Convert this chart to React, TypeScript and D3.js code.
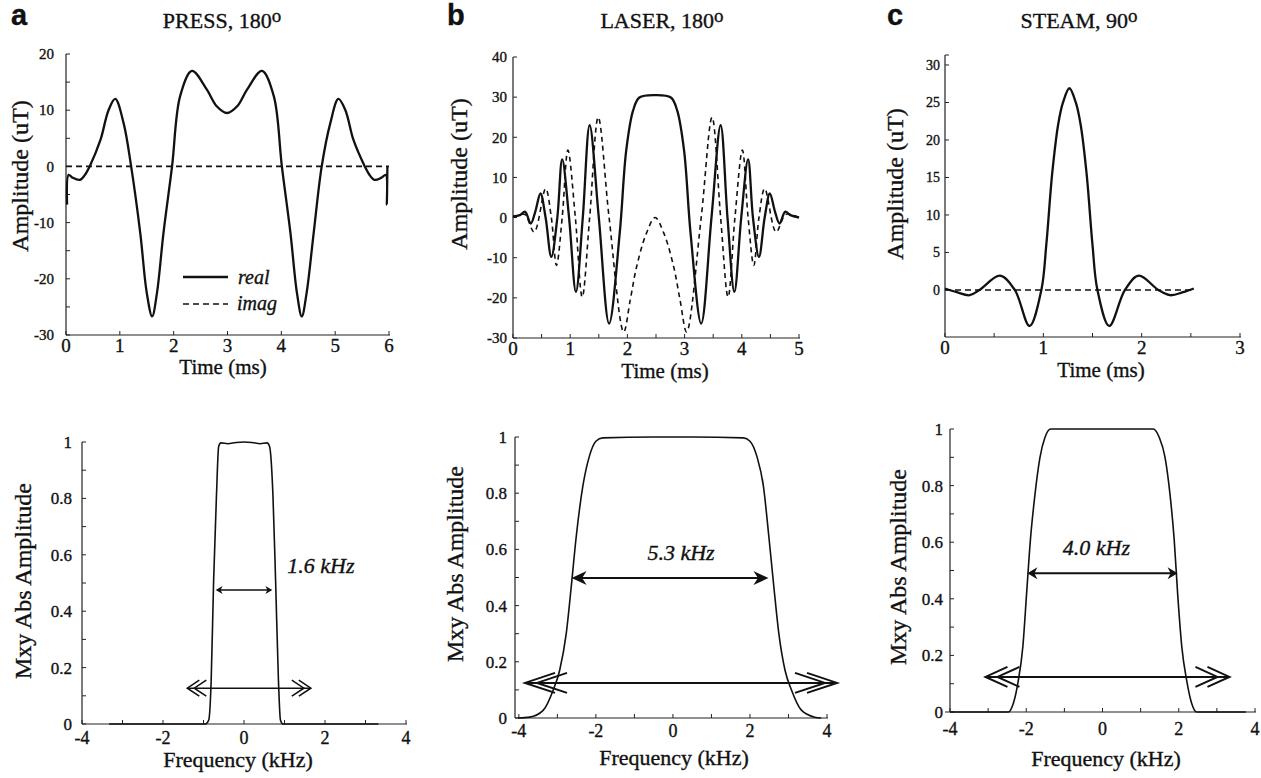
import React from "react";
import * as d3 from "d3";

type Pt = [number, number];

// ---------------- data ----------------
const panelLetters = ["a", "b", "c"];
const pulseNames = ["PRESS, 180", "LASER, 180", "STEAM, 90"];
const bandwidthLabels = ["1.6 kHz", "5.3 kHz", "4.0 kHz"];
const legendLabels = ["real", "imag"];
const timeAxisTitle = "Time (ms)";
const ampAxisTitle = "Amplitude (uT)";
const freqAxisTitle = "Frequency (kHz)";
const mxyAxisTitle = "Mxy Abs Amplitude";

const pressReal: Pt[] = [
  [0.02, -6.8], [0.05, -1.5], [0.12, -2.0], [0.26, -2.4], [0.36, -1.4], [0.44, 0],
  [0.64, 4.7], [0.79, 10], [0.915, 12], [1.07, 7.7], [1.21, 0], [1.38, -11.9],
  [1.5, -22.5], [1.6, -26.7], [1.69, -22.5], [1.81, -11.9], [1.97, 0], [2.12, 12.5],
  [2.34, 17], [2.62, 13.6], [2.8, 10.7], [2.99, 9.5], [3.18, 10.7], [3.36, 13.6],
  [3.64, 17], [3.86, 12.5], [4.01, 0], [4.17, -11.9], [4.29, -22.5], [4.38, -26.7],
  [4.47, -22.5], [4.6, -11.9], [4.75, 0], [4.91, 7.7], [5.06, 12], [5.19, 10],
  [5.34, 4.7], [5.55, 0], [5.63, -1.4], [5.73, -2.4], [5.86, -2.0], [5.94, -1.5],
  [5.96, -6.8], [5.97, 0],
];
const pressImag: Pt[] = [[0, 0], [6, 0]];

const laserReal: Pt[] = [
  [0, 0.3], [0.12, 0.6], [0.21, 1.5], [0.31, -1.5], [0.39, 1.5], [0.48, 6], [0.57, 0],
  [0.67, -9.8], [0.775, 0], [0.86, 14.5], [0.98, 0], [1.1, -18.5], [1.22, 0], [1.34, 23],
  [1.5, 0], [1.68, -26.4], [1.865, -4], [1.98, 16.8], [2.1, 26.7], [2.21, 29.9],
  [2.485, 30.5], [2.76, 29.9], [2.87, 26.7], [2.99, 16.8], [3.105, -4], [3.29, -26.4],
  [3.47, 0], [3.63, 23], [3.75, 0], [3.87, -18.5], [3.99, 0], [4.11, 14.5], [4.195, 0],
  [4.3, -9.8], [4.4, 0], [4.49, 6], [4.58, 1.5], [4.66, -1.5], [4.76, 1.5], [4.85, 0.6],
  [5.0, 0],
];
const laserImag: Pt[] = [
  [0, 0], [0.2, 0.8], [0.37, -3.6], [0.57, 7.2], [0.67, 0], [0.76, -11.9], [0.86, 0],
  [0.96, 16.8], [1.09, 0], [1.21, -19.8], [1.34, 0], [1.49, 25], [1.68, 0], [1.935, -28.5],
  [2.05, -20.5], [2.16, -12.3], [2.33, -4], [2.485, 0], [2.64, -4], [2.81, -12.3],
  [2.92, -20.5], [3.035, -28.5], [3.29, 0], [3.48, 25], [3.63, 0], [3.76, -19.8],
  [3.88, 0], [4.01, 16.8], [4.11, 0], [4.21, -11.9], [4.3, 0], [4.4, 7.2], [4.6, -3.6],
  [4.77, 0.8], [5.0, 0],
];

const steamReal: Pt[] = [
  [0, 0.2], [0.12, -0.3], [0.25, -0.7], [0.35, 0], [0.56, 1.9], [0.71, 0], [0.86, -4.8],
  [0.98, 0], [1.03, 6], [1.09, 15.5], [1.15, 22], [1.2, 25], [1.265, 26.9], [1.33, 25],
  [1.38, 22], [1.44, 15.5], [1.5, 6], [1.55, 0], [1.67, -4.8], [1.83, 0], [1.97, 1.9],
  [2.17, 0], [2.29, -0.7], [2.42, -0.3], [2.53, 0.2],
];
const steamImag: Pt[] = [[0, 0], [2.53, 0]];

const pressProfile: Pt[] = [
  [-3.33, 0], [-0.95, 0], [-0.87, 0.014], [-0.81, 0.156], [-0.75, 0.51], [-0.68, 0.81],
  [-0.625, 0.985], [-0.57, 0.997], [-0.4, 0.994], [-0.2, 0.998], [0, 1], [0.2, 0.998],
  [0.4, 0.994], [0.57, 0.997], [0.63, 0.985], [0.715, 0.81], [0.78, 0.51], [0.85, 0.156],
  [0.9, 0.014], [0.96, 0], [3.32, 0],
];
const laserProfile: Pt[] = [
  [-4.02, 0], [-3.72, 0.003], [-3.37, 0.027], [-3.11, 0.099], [-2.94, 0.17], [-2.77, 0.3],
  [-2.64, 0.467], [-2.51, 0.646], [-2.34, 0.824], [-2.17, 0.931], [-2.0, 0.985],
  [-1.82, 0.997], [-0.5, 1.0], [0.5, 1.0], [1.83, 0.997], [2.0, 0.985], [2.18, 0.931],
  [2.35, 0.824], [2.49, 0.646], [2.62, 0.467], [2.75, 0.3], [2.91, 0.17], [3.08, 0.099],
  [3.34, 0.027], [3.68, 0.003], [3.85, 0],
];
const steamProfile: Pt[] = [
  [-4, 0], [-2.47, 0], [-2.34, 0.03], [-2.21, 0.11], [-2.09, 0.23], [-1.99, 0.42],
  [-1.89, 0.61], [-1.77, 0.77], [-1.64, 0.9], [-1.51, 0.97], [-1.36, 1.0], [1.33, 1.0],
  [1.49, 0.97], [1.64, 0.9], [1.77, 0.77], [1.88, 0.61], [1.97, 0.42], [2.08, 0.23],
  [2.21, 0.11], [2.34, 0.03], [2.47, 0], [3.76, 0],
];

// annotation arrows (data units): [y, xStart, xEnd]
const fwhmArrows: [number, number, number][] = [
  [0.475, -0.7, 0.7], [0.498, -2.63, 2.48], [0.49, -1.97, 1.97],
];
const coverageArrows: [number, number, number][] = [
  [0.127, -1.4, 1.65], [0.125, -3.84, 4.26], [0.124, -3.07, 3.33],
];
const bandwidthLabelPos: Pt[] = [[1.07, 0.535], [0.21, 0.562], [-0.16, 0.555]];

// ticks
const pressTimeTicks = [0, 1, 2, 3, 4, 5, 6];
const pressAmpTicks = [-30, -20, -10, 0, 10, 20];
const pressAmpMinor = [-25, -15, -5, 5, 15];
const laserTimeTicks = [0, 1, 2, 3, 4, 5];
const laserTimeMinor = [0.5, 1.5, 2.5, 3.5, 4.5];
const laserAmpTicks = [-30, -20, -10, 0, 10, 20, 30, 40];
const steamTimeTicks = [0, 1, 2, 3];
const steamTimeMinor = [0.5, 1.5, 2.5];
const steamAmpTicks = [0, 5, 10, 15, 20, 25, 30];
const freqTicks = [-4, -2, 0, 2, 4];
const freqMinor = [-3, -1, 1, 3];
const mxyTicks = [0, 0.2, 0.4, 0.6, 0.8, 1];
const mxyMinor = [0.1, 0.3, 0.5, 0.7, 0.9];

// ---------------- layout ----------------
const SERIF = "'Liberation Serif', 'Times New Roman', Times, serif";
const SANS = "'Liberation Sans', Arial, Helvetica, sans-serif";
const AXIS = "#222";

interface Spec {
  xDomain: [number, number]; xRange: [number, number];
  yDomain: [number, number]; yRange: [number, number];
  xAxisFrom?: number;
  xTicks: number[]; xMinor: number[]; yTicks: number[]; yMinor: number[];
  yLabelRight: number; xTickBaseline: number; xTickFont: number; yTickFont: number;
  topTick?: boolean;
}

const topSpecs: Spec[] = [
  { xDomain: [0, 6], xRange: [66, 389], yDomain: [-30, 20], yRange: [335, 54],
    xTicks: pressTimeTicks, xMinor: [], yTicks: pressAmpTicks, yMinor: pressAmpMinor,
    yLabelRight: 54, xTickBaseline: 352, xTickFont: 19, yTickFont: 15 },
  { xDomain: [0, 5], xRange: [513, 799], yDomain: [-30, 40], yRange: [338, 57],
    xTicks: laserTimeTicks, xMinor: laserTimeMinor, yTicks: laserAmpTicks, yMinor: [],
    yLabelRight: 507, xTickBaseline: 355, xTickFont: 19, yTickFont: 15 },
  { xDomain: [0, 3], xRange: [945, 1240], yDomain: [-6.27, 31.33], yRange: [337, 55],
    xTicks: steamTimeTicks, xMinor: steamTimeMinor, yTicks: steamAmpTicks, yMinor: [],
    yLabelRight: 940, xTickBaseline: 354, xTickFont: 19, yTickFont: 14, topTick: true },
];
const bottomSpecs: Spec[] = [
  { xDomain: [-4, 4], xRange: [82, 406], yDomain: [0, 1], yRange: [724, 442], xAxisFrom: 82,
    xTicks: freqTicks, xMinor: freqMinor, yTicks: mxyTicks, yMinor: mxyMinor,
    yLabelRight: 72, xTickBaseline: 744, xTickFont: 18, yTickFont: 17 },
  { xDomain: [-4.1, 4], xRange: [515, 827], yDomain: [0, 1], yRange: [718, 437],
    xTicks: freqTicks, xMinor: freqMinor, yTicks: mxyTicks, yMinor: mxyMinor,
    yLabelRight: 507, xTickBaseline: 737, xTickFont: 18, yTickFont: 17 },
  { xDomain: [-4, 4], xRange: [950, 1255], yDomain: [0, 1], yRange: [712, 429], xAxisFrom: 945,
    xTicks: freqTicks, xMinor: freqMinor, yTicks: mxyTicks, yMinor: mxyMinor,
    yLabelRight: 943, xTickBaseline: 735, xTickFont: 18, yTickFont: 17 },
];

const letterPos: Pt[] = [[11, 25], [447, 25], [887, 25]];
const titlePos: Pt[] = [[222, 28], [662, 28], [1079, 28]];
const topYLabel: Pt[] = [[28, 176], [467, 174], [903, 184]];
const topXLabel: Pt[] = [[223, 374], [665, 378], [1101, 377]];
const botYLabel: Pt[] = [[31, 581], [463, 564], [906, 567]];
const botXLabel: Pt[] = [[238, 767], [674, 765], [1106, 766]];
const fwhmHead = [[7, 4], [15, 7], [10, 6]];
const chevronGeom = [[12, 8, 7], [30, 10, 12], [22, 10, 12]]; // len, half, offset

function scales(s: Spec) {
  const xs = d3.scaleLinear().domain(s.xDomain).range(s.xRange);
  const ys = d3.scaleLinear().domain(s.yDomain).range(s.yRange);
  return { xs, ys };
}

function Axes({ s, xs, ys }: { s: Spec; xs: any; ys: any }) {
  const bottom = s.yRange[0];
  const top = s.yRange[1];
  const left = xs(s.xDomain[0]);
  const axisLeft = s.xAxisFrom ?? left;
  const right = s.xRange[1];
  const tl = 4;
  return (
    <g>
      <line x1={left} x2={left} y1={bottom} y2={top} stroke={AXIS} strokeWidth={1.2} />
      <line x1={axisLeft} x2={right + 1} y1={bottom} y2={bottom} stroke={AXIS} strokeWidth={1.2} />
      {[...s.yTicks, ...s.yMinor].map((v, i) => (
        <line key={"yt" + i} x1={left} x2={left + tl} y1={ys(v)} y2={ys(v)} stroke={AXIS} strokeWidth={1} />
      ))}
      {s.topTick && <line x1={left} x2={left + tl} y1={top} y2={top} stroke={AXIS} strokeWidth={1} />}
      {[...s.xTicks, ...s.xMinor].map((v, i) => (
        <line key={"xt" + i} x1={xs(v)} x2={xs(v)} y1={bottom} y2={bottom - tl} stroke={AXIS} strokeWidth={1} />
      ))}
      {s.yTicks.map((v, i) => (
        <text key={"yl" + i} x={s.yLabelRight} y={ys(v)} dy="0.35em" textAnchor="end"
          fontFamily={SERIF} fontSize={s.yTickFont} fill="#111">{String(v)}</text>
      ))}
      {s.xTicks.map((v, i) => (
        <text key={"xl" + i} x={xs(v)} y={s.xTickBaseline} textAnchor="middle"
          fontFamily={SERIF} fontSize={s.xTickFont} fill="#111">{String(v)}</text>
      ))}
    </g>
  );
}

function filledHead(tip: number, y: number, dir: number, len: number, half: number) {
  const b = tip - dir * len;
  const n = tip - dir * len * 0.7;
  return `M${tip},${y}L${b},${y - half}L${n},${y}L${b},${y + half}Z`;
}
function chevron(tip: number, y: number, dir: number, len: number, half: number) {
  const b = tip - dir * len;
  return `M${b},${y - half}L${tip},${y}L${b},${y + half}`;
}

const topSeries = [
  [pressReal, pressImag],
  [laserReal, laserImag],
  [steamReal, steamImag],
];
const profiles = [pressProfile, laserProfile, steamProfile];

export default function App() {
  return (
    <svg width={1261} height={778} style={{ position: "absolute", left: 0, top: 0, background: "#fff" }}>
      <style>{"text { stroke: #111; stroke-width: 0.35px; }"}</style>
      <rect x={0} y={0} width={1261} height={778} fill="#fff" />
      {topSpecs.map((s, i) => {
        const { xs, ys } = scales(s);
        const line = d3.line<Pt>().x((d) => xs(d[0])).y((d) => ys(d[1])).curve(d3.curveCatmullRom.alpha(0.5));
        const [real, imag] = topSeries[i];
        return (
          <g key={"top" + i}>
            <text x={letterPos[i][0]} y={letterPos[i][1]} fontFamily={SANS} fontWeight="bold" fontSize={29} fill="#111">
              {panelLetters[i]}
            </text>
            <text x={titlePos[i][0]} y={titlePos[i][1]} textAnchor="middle" fontFamily={SERIF} fontSize={22} fill="#111">
              {pulseNames[i]}
              <tspan fontSize={19} dy={-6}>o</tspan>
            </text>
            <Axes s={s} xs={xs} ys={ys} />
            <path d={line(imag) || ""} fill="none" stroke="#111" strokeWidth={1.6}
              strokeDasharray={i === 1 ? "5,4" : "6,4"} />
            <path d={line(real) || ""} fill="none" stroke="#111" strokeWidth={2.3} strokeLinejoin="round" />
            <text transform={`translate(${topYLabel[i][0]},${topYLabel[i][1]}) rotate(-90)`} textAnchor="middle"
              fontFamily={SERIF} fontSize={24} fill="#111">{ampAxisTitle}</text>
            <text x={topXLabel[i][0]} y={topXLabel[i][1]} textAnchor="middle" fontFamily={SERIF} fontSize={21} fill="#111">
              {timeAxisTitle}
            </text>
            {i === 0 && (
              <g>
                <line x1={183} x2={228} y1={277} y2={277} stroke="#111" strokeWidth={2.3} />
                <line x1={183} x2={228} y1={304} y2={304} stroke="#111" strokeWidth={1.6} strokeDasharray="6,4" />
                <text x={238} y={284} fontFamily={SERIF} fontStyle="italic" fontSize={20} fill="#111">{legendLabels[0]}</text>
                <text x={237} y={310} fontFamily={SERIF} fontStyle="italic" fontSize={20} fill="#111">{legendLabels[1]}</text>
              </g>
            )}
          </g>
        );
      })}
      {bottomSpecs.map((s, i) => {
        const { xs, ys } = scales(s);
        const line = d3.line<Pt>().x((d) => xs(d[0])).y((d) => ys(d[1])).curve(d3.curveMonotoneX);
        const [fy, fx1, fx2] = fwhmArrows[i];
        const [cy, cx1, cx2] = coverageArrows[i];
        const [hl, hh] = fwhmHead[i];
        const [cl, ch, co] = chevronGeom[i];
        const fY = ys(fy), fa = xs(fx1), fb = xs(fx2);
        const cY = ys(cy), ca = xs(cx1), cb = xs(cx2);
        const sw = i === 0 ? 1.6 : 2;
        return (
          <g key={"bot" + i}>
            <Axes s={s} xs={xs} ys={ys} />
            <path d={line(profiles[i]) || ""} fill="none" stroke="#111" strokeWidth={1.6} />
            {/* FWHM arrow */}
            <line x1={fa + hl * 0.6} x2={fb - hl * 0.6} y1={fY} y2={fY} stroke="#111" strokeWidth={sw} />
            <path d={filledHead(fa, fY, -1, hl, hh)} fill="#111" />
            <path d={filledHead(fb, fY, 1, hl, hh)} fill="#111" />
            {/* coverage arrow */}
            <line x1={ca} x2={cb} y1={cY} y2={cY} stroke="#111" strokeWidth={sw} />
            <path d={chevron(ca, cY, -1, cl, ch)} fill="none" stroke="#111" strokeWidth={sw} />
            <path d={chevron(ca + co, cY, -1, cl, ch)} fill="none" stroke="#111" strokeWidth={sw} />
            <path d={chevron(cb, cY, 1, cl, ch)} fill="none" stroke="#111" strokeWidth={sw} />
            <path d={chevron(cb - co, cY, 1, cl, ch)} fill="none" stroke="#111" strokeWidth={sw} />
            <text x={xs(bandwidthLabelPos[i][0])} y={ys(bandwidthLabelPos[i][1])}
              textAnchor={i === 0 ? "start" : "middle"} fontFamily={SERIF} fontStyle="italic" fontSize={22} fill="#111">
              {bandwidthLabels[i]}
            </text>
            <text transform={`translate(${botYLabel[i][0]},${botYLabel[i][1]}) rotate(-90)`} textAnchor="middle"
              fontFamily={SERIF} fontSize={24} fill="#111">{mxyAxisTitle}</text>
            <text x={botXLabel[i][0]} y={botXLabel[i][1]} textAnchor="middle" fontFamily={SERIF} fontSize={22} fill="#111">
              {freqAxisTitle}
            </text>
          </g>
        );
      })}
    </svg>
  );
}
